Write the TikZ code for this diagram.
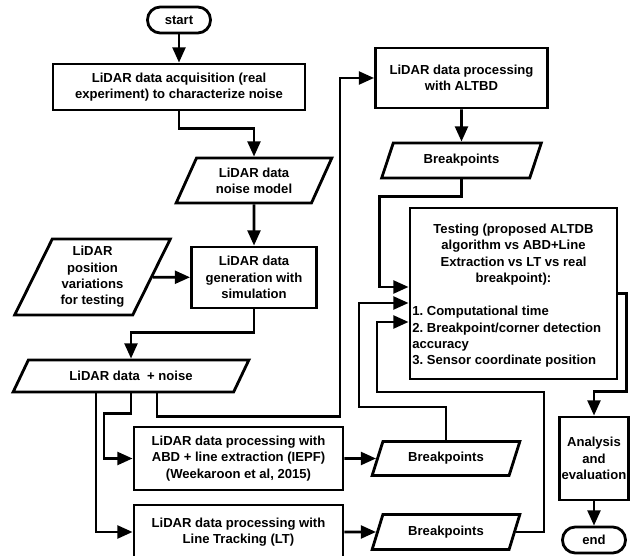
\documentclass[tikz,border=0pt]{standalone}
\usepackage{fontspec}
\setmainfont{Liberation Sans}
\usetikzlibrary{shapes.geometric,arrows.meta,calc}
\frenchspacing

\begin{document}
\begin{tikzpicture}[x=0.025cm, y=-0.025cm,
  block/.style={rectangle, draw, line width=2pt, inner sep=1pt, align=center, font=\fontsize{9.3}{11.6}\selectfont\bfseries},
  term/.style={block, rounded corners=0.32cm},
  io/.style={trapezium, trapezium left angle=64, trapezium right angle=116, trapezium stretches=true, draw, line width=2pt, inner sep=1pt, align=center, font=\fontsize{9.3}{11.6}\selectfont\bfseries},
  lab/.style={inner sep=0pt, font=\fontsize{9.3}{11.6}\selectfont\bfseries},
  arr/.style={line width=2pt, -{Triangle[length=0.38cm,width=0.32cm]}}]
\useasboundingbox (0,0) rectangle (634,556);
%%%%%%%%%%%%%%%%%%%%%%%%%%%%%%%%%%%%%%%%%%%%%%%%%%
% left column
%%%%%%%%%%%%%%%%%%%%%%%%%%%%%%%%%%%%%%%%%%%%%%%%%%
  \node[term, minimum width=1.575cm, minimum height=0.65cm] (start) at (179,20) {start};
  \node[block, minimum width=6.3cm, minimum height=1.15cm] (acq) at (179,87) {LiDAR data acquisition (real\\experiment) to characterize noise};
  \node[io, minimum width=3.9cm, minimum height=1.125cm] (nm) at (254,180.5) {LiDAR data\\noise model};
  \node[block, minimum width=3.125cm, minimum height=1.525cm] (gen) at (254,277.5) {LiDAR data\\generation with\\simulation};
  \node[io, minimum width=3.925cm, minimum height=1.9cm] (pos) at (92.5,277) {LiDAR\\position\\variations\\for testing};
  \node[io, trapezium left angle=53, trapezium right angle=127, minimum width=5.9cm, minimum height=0.8cm] (ln) at (131,376) {LiDAR data~ + noise};
  \node[block, minimum width=5.225cm, minimum height=1.575cm] (abd) at (238.5,458.5) {LiDAR data processing with\\ABD + line extraction (IEPF)\\(Weekaroon et al, 2015)};
  \node[block, minimum width=5.225cm, minimum height=1.35cm] (lt) at (238.5,532) {LiDAR data processing with\\Line Tracking (LT)};

  \draw[arr] (start)--(acq);
  \draw[arr] (acq.south) -- ++(0,17) -| (nm.north);
  \draw[arr] (nm)--(gen);
  \draw[arr] (pos)--(gen);
  \draw[arr] (gen.south) -- ++(0,23) -| (ln.north);
  \draw[arr] ($(ln.south)+(-35,0)$) |- (lt.west);
  \draw[arr] (ln.south) -- ++(0,20) -- ++(-27,0) |- (abd.west);
%%%%%%%%%%%%%%%%%%%%%%%%%%%%%%%%%%%%%%%%%%%%%%%%%%
% right column
%%%%%%%%%%%%%%%%%%%%%%%%%%%%%%%%%%%%%%%%%%%%%%%%%%
  \node[block, minimum width=4.3cm, minimum height=1.5cm] (altbd) at (461.5,78) {LiDAR data processing\\with ALTBD};
  \node[io, trapezium left angle=66, trapezium right angle=114, minimum width=4.0cm, minimum height=0.875cm] (bpa) at (461.5,160.5) {Breakpoints};
  \node[block, minimum width=5.175cm, minimum height=4.275cm] (test) at (513.5,293.5) {};
  \node[lab, align=center] (testhd) at (513.5,254.5) {Testing (proposed ALTDB\\algorithm vs ABD+Line\\Extraction vs LT vs real\\breakpoint):};
  \node[lab, align=left, anchor=west] (testls) at (412,337) {1. Computational time\\2. Breakpoint/corner detection\\accuracy\\3. Sensor coordinate position};
  \node[io, trapezium left angle=66, trapezium right angle=114, minimum width=3.7cm, minimum height=0.85cm] (bpb) at (446,458.5) {Breakpoints};
  \node[io, trapezium left angle=66, trapezium right angle=114, minimum width=3.7cm, minimum height=0.875cm] (bpc) at (446,532) {Breakpoints};
  \node[block, minimum width=1.725cm, minimum height=2.075cm] (ana) at (594,458.5) {Analysis\\and\\evaluation};
  \node[term, minimum width=1.575cm, minimum height=0.65cm] (end) at (594,540) {end};

  \coordinate (in1) at ($(test.west)+(0,-6.5)$);
  \coordinate (in2) at ($(test.west)+(0,9.5)$);
  \coordinate (in3) at ($(test.west)+(0,28.5)$);

  \draw[arr] ($(ln.south)+(26,0)$) -- ++(0,23) -- ++(183,0) |- (altbd.west);
  \draw[arr] (altbd)--(bpa);
  \draw[arr] (abd)--(bpb);
  \draw[arr] (lt)--(bpc);
  \draw[arr] (bpa.south) -- ++(0,17) -- ++(-82,0) |- (in1);
  \draw[arr] (bpb.north) -- ++(0,-33) -- ++(-87,0) |- (in2);
  \draw[arr] (bpc.east) -- ++(28,0) -- ++(0,-140) -- ++(-167,0) |- (in3);
  \draw[arr] (test.east) -- ++(8,0) -- ++(0,98) -| (ana.north);
  \draw[arr] (ana)--(end);
\end{tikzpicture}
\end{document}
